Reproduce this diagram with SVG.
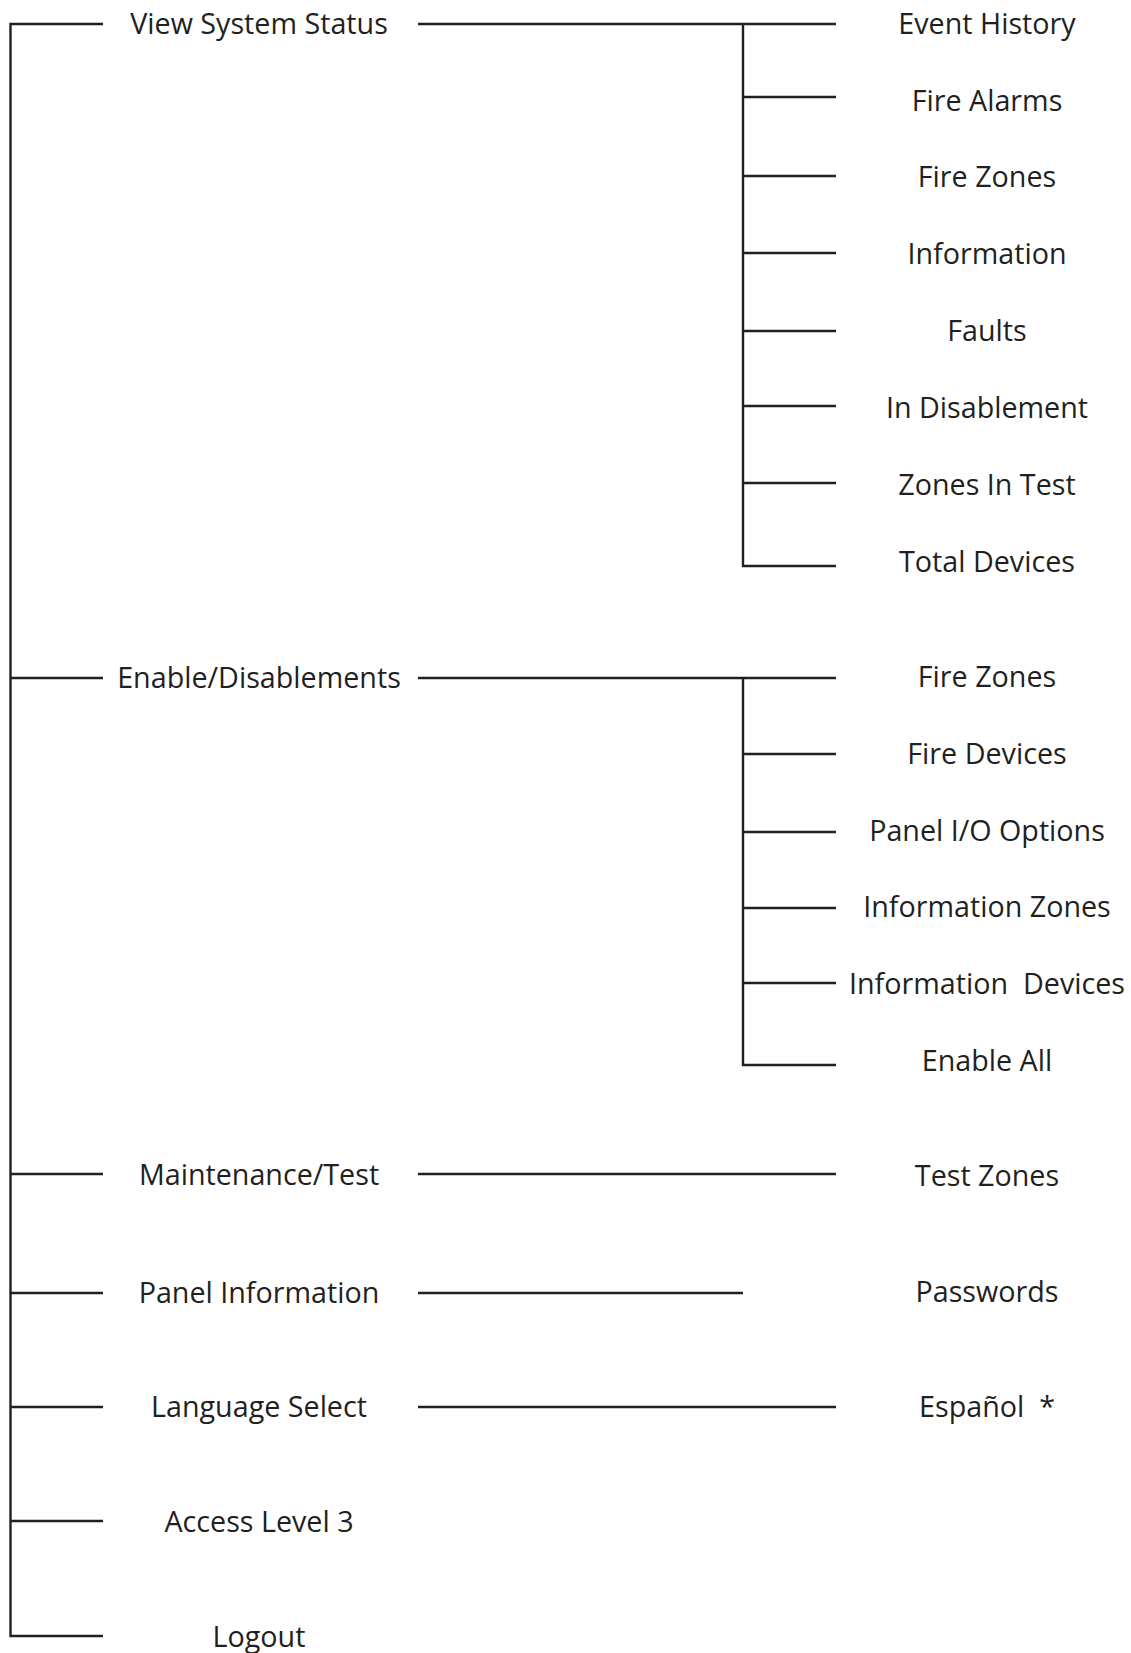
<svg xmlns="http://www.w3.org/2000/svg" width="1131" height="1653" viewBox="0 0 1131 1653">
<style>
.c line, .c polyline { stroke: #231f20; stroke-width: 2.4; fill: none; }
text { font-family: "Open Sans", "Noto Sans", "Liberation Sans", sans-serif; font-size: 28.7px; fill: #231f20; text-anchor: middle; white-space: pre; }
</style>
<rect width="1131" height="1653" fill="#ffffff"/>
<g id="connectors" class="c">
  <polyline points="103,24 10.5,24 10.5,1636 103,1636"/>
  <line x1="10.5" y1="678" x2="103" y2="678"/>
  <line x1="10.5" y1="1174" x2="103" y2="1174"/>
  <line x1="10.5" y1="1293" x2="103" y2="1293"/>
  <line x1="10.5" y1="1407" x2="103" y2="1407"/>
  <line x1="10.5" y1="1521" x2="103" y2="1521"/>
  <line x1="418" y1="24" x2="836" y2="24"/>
  <polyline points="743,24 743,566 836,566"/>
  <line x1="743" y1="97" x2="836" y2="97"/>
  <line x1="743" y1="176" x2="836" y2="176"/>
  <line x1="743" y1="253" x2="836" y2="253"/>
  <line x1="743" y1="331" x2="836" y2="331"/>
  <line x1="743" y1="406" x2="836" y2="406"/>
  <line x1="743" y1="483" x2="836" y2="483"/>
  <line x1="418" y1="678" x2="836" y2="678"/>
  <polyline points="743,678 743,1065 836,1065"/>
  <line x1="743" y1="754" x2="836" y2="754"/>
  <line x1="743" y1="832" x2="836" y2="832"/>
  <line x1="743" y1="908" x2="836" y2="908"/>
  <line x1="743" y1="983" x2="836" y2="983"/>
  <line x1="418" y1="1174" x2="836" y2="1174"/>
  <line x1="418" y1="1293" x2="743" y2="1293"/>
  <line x1="418" y1="1407" x2="836" y2="1407"/>
</g>
<g id="view-system-status"><text x="259" y="34">View System Status</text></g>
<g id="enable-disablements"><text x="259" y="688">Enable/Disablements</text></g>
<g id="maintenance-test"><text x="259" y="1185">Maintenance/Test</text></g>
<g id="panel-information"><text x="259" y="1303">Panel Information</text></g>
<g id="language-select"><text x="259" y="1417">Language Select</text></g>
<g id="access-level-3"><text x="259" y="1532">Access Level 3</text></g>
<g id="logout"><text x="259" y="1647">Logout</text></g>
<g id="event-history"><text x="987" y="34">Event History</text></g>
<g id="fire-alarms"><text x="987" y="111">Fire Alarms</text></g>
<g id="fire-zones-1"><text x="987" y="187">Fire Zones</text></g>
<g id="information"><text x="987" y="264">Information</text></g>
<g id="faults"><text x="987" y="341">Faults</text></g>
<g id="in-disablement"><text x="987" y="418">In Disablement</text></g>
<g id="zones-in-test"><text x="987" y="495">Zones In Test</text></g>
<g id="total-devices"><text x="987" y="572">Total Devices</text></g>
<g id="fire-zones-2"><text x="987" y="687">Fire Zones</text></g>
<g id="fire-devices"><text x="987" y="764">Fire Devices</text></g>
<g id="panel-io-options"><text x="987" y="841">Panel I/O Options</text></g>
<g id="information-zones"><text x="987" y="917">Information Zones</text></g>
<g id="information-devices"><text x="987" y="994">Information  Devices</text></g>
<g id="enable-all"><text x="987" y="1071">Enable All</text></g>
<g id="test-zones"><text x="987" y="1186">Test Zones</text></g>
<g id="passwords"><text x="987" y="1302">Passwords</text></g>
<g id="espanol"><text x="987" y="1417">Español  *</text></g>
</svg>
